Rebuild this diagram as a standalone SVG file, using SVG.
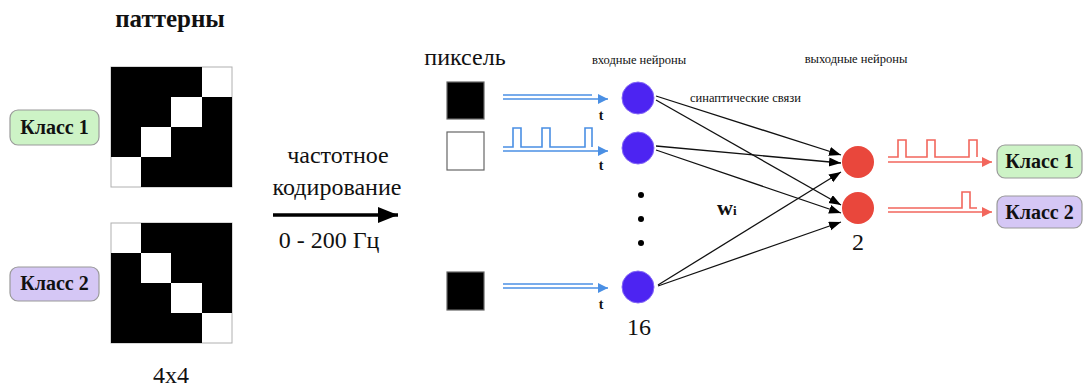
<svg xmlns="http://www.w3.org/2000/svg" width="1084" height="389" viewBox="0 0 1084 389">
<defs>
<style>
.serif{font-family:"Liberation Serif","Times New Roman",serif;fill:#111}
.b{font-weight:bold}
.cls1{fill:#cdf3c6;stroke:#9a9a9a;stroke-width:1.2}
.cls2{fill:#d5c7f5;stroke:#9a9a9a;stroke-width:1.2}
.blk{fill:#000}
.gridbg{fill:#fff;stroke:#b0b0b0;stroke-width:1}
.pix{stroke:#666;stroke-width:1.2}
.sigb{fill:none;stroke:#4a8fe4;stroke-width:1.6}
.sigr{fill:none;stroke:#f2665c;stroke-width:1.6}
.in{fill:#4d24f2;stroke:#8468f7;stroke-width:1}
.out{fill:#e9473c}
.conn{stroke:#111;stroke-width:1.3;fill:none}
</style>
<marker id="ab" markerUnits="userSpaceOnUse" markerWidth="12" markerHeight="12" refX="10" refY="5" orient="auto"><path d="M0,0 L10,5 L0,10 Z" fill="#4a8fe4"/></marker>
<marker id="ar" markerUnits="userSpaceOnUse" markerWidth="12" markerHeight="12" refX="10" refY="5" orient="auto"><path d="M0,0 L10,5 L0,10 Z" fill="#f2665c"/></marker>
<marker id="ak" markerUnits="userSpaceOnUse" markerWidth="14" markerHeight="12" refX="12" refY="4.5" orient="auto"><path d="M0,0 L12,4.5 L0,9 Z" fill="#000"/></marker>
<marker id="abig" markerUnits="userSpaceOnUse" markerWidth="22" markerHeight="18" refX="20" refY="8" orient="auto"><path d="M0,0 L20,8 L0,16 Z" fill="#000"/></marker>
</defs>
<rect width="1084" height="389" fill="#fff"/>

<g id="title">
<text class="serif b" x="170" y="27" font-size="25" text-anchor="middle">паттерны</text>
</g>

<g id="pattern1">
<rect class="gridbg" x="111" y="67" width="121" height="120"/>
<rect class="blk" x="111" y="67" width="91" height="30"/>
<rect class="blk" x="111" y="97" width="60" height="30"/>
<rect class="blk" x="202" y="97" width="30" height="30"/>
<rect class="blk" x="111" y="127" width="30" height="30"/>
<rect class="blk" x="171" y="127" width="61" height="30"/>
<rect class="blk" x="141" y="157" width="91" height="30"/>
</g>

<g id="pattern2">
<rect class="gridbg" x="111" y="223" width="121" height="120"/>
<rect class="blk" x="141" y="223" width="91" height="30"/>
<rect class="blk" x="111" y="253" width="30" height="30"/>
<rect class="blk" x="171" y="253" width="61" height="30"/>
<rect class="blk" x="111" y="283" width="60" height="30"/>
<rect class="blk" x="202" y="283" width="30" height="30"/>
<rect class="blk" x="111" y="313" width="91" height="30"/>
</g>

<g id="size-label">
<text class="serif" x="171" y="383" font-size="24" text-anchor="middle">4x4</text>
</g>

<g id="class1-left">
<rect class="cls1" x="10" y="110" width="89" height="35" rx="8"/>
<text class="serif b" x="54.5" y="134" font-size="20" text-anchor="middle">Класс 1</text>
</g>
<g id="class2-left">
<rect class="cls2" x="10" y="267" width="89" height="34" rx="8"/>
<text class="serif b" x="54.5" y="290" font-size="20" text-anchor="middle">Класс 2</text>
</g>

<g id="encoding">
<text class="serif" x="338" y="163" font-size="24" text-anchor="middle">частотное</text>
<text class="serif" x="337" y="195" font-size="24" text-anchor="middle">кодирование</text>
<line x1="273" y1="215" x2="398" y2="215" stroke="#000" stroke-width="3.5" marker-end="url(#abig)"/>
<text class="serif" x="329" y="248" font-size="24" text-anchor="middle">0 - 200 Гц</text>
</g>

<g id="pixels">
<text class="serif" x="465" y="65" font-size="24" text-anchor="middle">пиксель</text>
<rect class="pix" x="447" y="82" width="37" height="37" fill="#000"/>
<rect class="pix" x="447" y="132" width="37" height="38" fill="#fff"/>
<rect class="pix" x="447" y="272" width="37" height="38" fill="#000"/>
</g>

<g id="input-signals">
<line class="sigb" x1="503" y1="99" x2="608" y2="99" marker-end="url(#ab)"/>
<line class="sigb" x1="503" y1="95" x2="592" y2="95"/>
<line class="sigb" x1="503" y1="151" x2="608" y2="151" marker-end="url(#ab)"/>
<path class="sigb" d="M503,147 H513 V128 H521 V147 H542 V128 H550 V147 H585 V128 H592 V147"/>
<line class="sigb" x1="503" y1="288" x2="608" y2="288" marker-end="url(#ab)"/>
<line class="sigb" x1="503" y1="284" x2="593" y2="284"/>
<text class="serif b" x="601" y="120" font-size="14" text-anchor="middle">t</text>
<text class="serif b" x="601" y="170" font-size="14" text-anchor="middle">t</text>
<text class="serif b" x="601" y="309" font-size="14" text-anchor="middle">t</text>
</g>

<g id="input-neurons">
<text class="serif" x="639" y="64" font-size="12.5" text-anchor="middle">входные нейроны</text>
<circle class="in" cx="638" cy="98" r="16"/>
<circle class="in" cx="638" cy="148" r="16"/>
<circle fill="#000" cx="641" cy="195" r="3"/>
<circle fill="#000" cx="641" cy="219" r="3"/>
<circle fill="#000" cx="641" cy="243" r="3"/>
<circle class="in" cx="638" cy="287" r="16"/>
<text class="serif" x="639" y="335" font-size="24" text-anchor="middle">16</text>
</g>

<g id="connectors">
<line class="conn" x1="656" y1="96" x2="841" y2="155" marker-end="url(#ak)"/>
<line class="conn" x1="656" y1="100" x2="841" y2="205" marker-end="url(#ak)"/>
<line class="conn" x1="656" y1="146" x2="841" y2="163" marker-end="url(#ak)"/>
<line class="conn" x1="656" y1="150" x2="841" y2="213" marker-end="url(#ak)"/>
<line class="conn" x1="658" y1="285" x2="841" y2="172" marker-end="url(#ak)"/>
<line class="conn" x1="658" y1="286" x2="841" y2="222" marker-end="url(#ak)"/>
<text class="serif" x="690" y="102" font-size="12.5">синаптические связи</text>
<text class="serif b" x="717" y="215" font-size="22">w<tspan font-size="13">i</tspan></text>
</g>

<g id="output-neurons">
<text class="serif" x="856" y="63" font-size="12.5" text-anchor="middle">выходные нейроны</text>
<circle class="out" cx="858" cy="162" r="16"/>
<circle class="out" cx="858" cy="208" r="16"/>
<text class="serif" x="858" y="250" font-size="24" text-anchor="middle">2</text>
</g>

<g id="output-signals">
<line class="sigr" x1="888" y1="162" x2="992" y2="162" marker-end="url(#ar)"/>
<path class="sigr" d="M888,157 H898 V140 H906 V157 H927 V140 H935 V157 H969 V140 H977 V157"/>
<line class="sigr" x1="888" y1="212" x2="992" y2="212" marker-end="url(#ar)"/>
<path class="sigr" d="M888,208 H962 V192 H970 V208 H977"/>
</g>

<g id="class1-right">
<rect class="cls1" x="997" y="145" width="85" height="33" rx="8"/>
<text class="serif b" x="1039.5" y="168" font-size="20" text-anchor="middle">Класс 1</text>
</g>
<g id="class2-right">
<rect class="cls2" x="997" y="196" width="85" height="32" rx="8"/>
<text class="serif b" x="1039.5" y="219" font-size="20" text-anchor="middle">Класс 2</text>
</g>
</svg>
